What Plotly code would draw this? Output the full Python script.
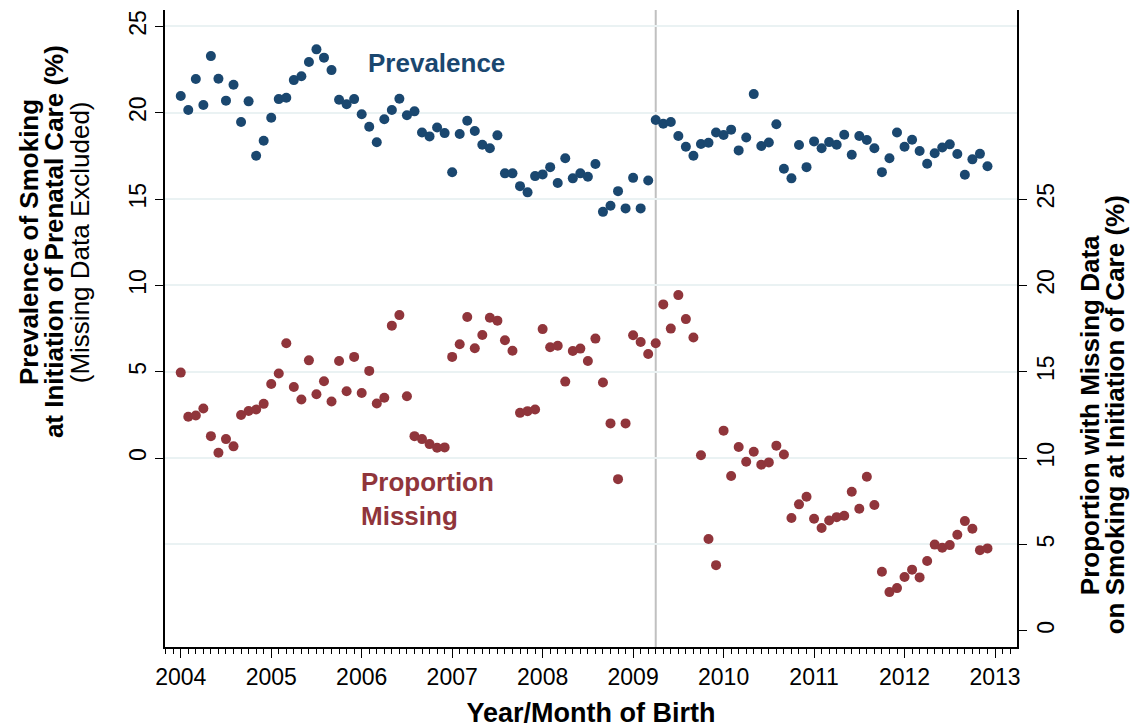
import plotly.graph_objects as go

# Monthly series, January 2004 through December 2012
start_year = 2004
year_ticks = list(range(2004, 2014))

# Prevalence of smoking at initiation of prenatal care (%), missing excluded
prevalence = [
    20.97, 20.16, 21.95, 20.45, 23.28, 21.97, 20.70, 21.62, 19.46, 20.66, 17.51, 18.38,
    19.71, 20.79, 20.87, 21.89, 22.11, 22.94, 23.67, 23.19, 22.47, 20.75, 20.49, 20.79,
    19.91, 19.19, 18.29, 19.62, 20.16, 20.81, 19.85, 20.08, 18.86, 18.63, 19.15, 18.82,
    16.55, 18.77, 19.54, 18.94, 18.15, 17.94, 18.69, 16.49, 16.49, 15.75, 15.39, 16.33,
    16.43, 16.85, 15.93, 17.36, 16.20, 16.49, 16.29, 17.03, 14.26, 14.61, 15.46, 14.46,
    16.23, 14.46, 16.08, 19.58, 19.36, 19.46, 18.65, 18.03, 17.51, 18.19, 18.26, 18.86,
    18.71, 19.02, 17.82, 18.57, 21.08, 18.07, 18.28, 19.33, 16.76, 16.20, 18.13, 16.85,
    18.34, 17.94, 18.30, 18.15, 18.73, 17.57, 18.65, 18.42, 17.94, 16.56, 17.36, 18.86,
    18.03, 18.44, 17.78, 17.05, 17.65, 17.99, 18.17, 17.61, 16.41, 17.30, 17.62, 16.90,
]

# Proportion with missing smoking data (%)
missing = [
    14.95, 12.39, 12.47, 12.87, 11.27, 10.31, 11.10, 10.68, 12.50, 12.73, 12.81, 13.14,
    14.29, 14.90, 16.65, 14.12, 13.39, 15.66, 13.70, 14.45, 13.28, 15.62, 13.87, 15.86,
    13.77, 15.05, 13.16, 13.49, 17.67, 18.28, 13.58, 11.27, 11.10, 10.81, 10.60, 10.62,
    15.86, 16.59, 18.17, 16.36, 17.13, 18.13, 17.96, 16.82, 16.22, 12.62, 12.72, 12.81,
    17.47, 16.42, 16.51, 14.43, 16.20, 16.34, 15.62, 16.92, 14.38, 12.01, 8.78, 12.01,
    17.11, 16.72, 16.03, 16.65, 18.90, 17.50, 19.44, 18.05, 16.98, 10.16, 5.31, 3.80,
    11.59, 8.96, 10.64, 9.79, 10.37, 9.62, 9.75, 10.72, 10.21, 6.53, 7.32, 7.76,
    6.49, 5.95, 6.39, 6.58, 6.66, 8.05, 7.07, 8.92, 7.28, 3.42, 2.24, 2.47,
    3.11, 3.54, 3.09, 4.04, 4.99, 4.81, 4.96, 5.56, 6.35, 5.91, 4.67, 4.77,
]

left_ticks = [0, 5, 10, 15, 20, 25]
right_ticks = [0, 5, 10, 15, 20, 25]
reference_month = 2009.25  # April 2009

left_title_lines = [
    "<b>Prevalence of Smoking</b>",
    "<b>at Initiation of Prenatal Care (%)</b>",
    "(Missing Data Excluded)",
]
right_title_lines = [
    "<b>Proportion with Missing Data</b>",
    "<b>on Smoking at Initiation of Care (%)</b>",
]

NAVY = "#1a476f"
MAROON = "#90353b"
FONT = "Liberation Sans, Arial, sans-serif"

months = [start_year + i / 12 for i in range(len(prevalence))]

# The two axes share one scale, with the right axis shifted up by 10 points
left_range = [-10.94, 25.95]
right_range = [left_range[0] + 10, left_range[1] + 10]

fig = go.Figure()
fig.add_trace(go.Scatter(
    x=months, y=prevalence, mode="markers", name="Prevalence",
    marker=dict(color=NAVY, size=10, line=dict(width=0)),
    yaxis="y",
))
fig.add_trace(go.Scatter(
    x=months, y=missing, mode="markers", name="Proportion Missing",
    marker=dict(color=MAROON, size=10, line=dict(width=0)),
    yaxis="y2",
))

fig.add_vline(x=reference_month, line=dict(color="#c0c0c0", width=2), layer="below")

tick_font = dict(family=FONT, size=23, color="black")
title_font = dict(family=FONT, size=26, color="black")

# Axis titles, one annotation per line so the line spacing stays tight
annotations = []
for i, line in enumerate(left_title_lines):
    annotations.append(dict(
        text=line, xref="paper", yref="paper",
        x=-0.1595 + i * 0.0295, y=0.636, textangle=-90,
        xanchor="center", yanchor="middle", showarrow=False, font=title_font,
    ))
for i, line in enumerate(right_title_lines):
    annotations.append(dict(
        text=line, xref="paper", yref="paper",
        x=1.0857 + i * 0.0295, y=0.364, textangle=-90,
        xanchor="center", yanchor="middle", showarrow=False, font=title_font,
    ))

# Series labels inside the plot
annotations += [
    dict(text="<b>Prevalence</b>", xref="paper", yref="paper",
         x=0.319, y=0.917, xanchor="center", yanchor="middle",
         showarrow=False, font=dict(family=FONT, size=26, color=NAVY)),
    dict(text="<b>Proportion</b><br><b>Missing</b>", xref="paper", yref="paper",
         x=0.228, y=0.232, xanchor="left", yanchor="middle", align="left",
         showarrow=False, font=dict(family=FONT, size=26, color=MAROON)),
]

fig.update_layout(
    width=1133, height=728,
    margin=dict(l=165, r=116, t=10, b=81, autoexpand=False),
    paper_bgcolor="white", plot_bgcolor="white",
    showlegend=False,
    font=dict(family=FONT, color="black"),
    xaxis=dict(
        range=[2003.826, 2013.243],
        tickvals=year_ticks,
        ticktext=[str(y) for y in year_ticks],
        ticks="outside", ticklen=9, tickwidth=1.2, tickcolor="black",
        tickfont=tick_font,
        minor=dict(dtick=1 / 12, tick0=2004, ticks="outside", ticklen=5,
                   tickwidth=1, tickcolor="black", showgrid=False),
        showline=True, linecolor="black", linewidth=1.5,
        showgrid=False, zeroline=False, automargin=False,
        title=dict(text="<b>Year/Month of Birth</b>",
                   font=dict(family=FONT, size=27, color="black"), standoff=14),
    ),
    yaxis=dict(
        range=left_range,
        tickvals=left_ticks,
        ticks="outside", ticklen=8, tickwidth=1.2, tickcolor="black",
        tickangle=-90, tickfont=tick_font,
        showline=True, linecolor="black", linewidth=1.5,
        showgrid=True, gridcolor="#eaf2f3", gridwidth=1.5,
        minor=dict(tickvals=[-5], ticks="", showgrid=True,
                   gridcolor="#eaf2f3", gridwidth=1.5),
        zeroline=False, automargin=False,
    ),
    yaxis2=dict(
        range=right_range,
        overlaying="y", side="right", anchor="x",
        tickvals=right_ticks,
        ticks="outside", ticklen=8, tickwidth=1.2, tickcolor="black",
        tickangle=-90, tickfont=tick_font,
        showline=True, linecolor="black", linewidth=1.5,
        showgrid=False, zeroline=False, automargin=False,
    ),
    annotations=annotations,
)

fig.write_html("out.html")
